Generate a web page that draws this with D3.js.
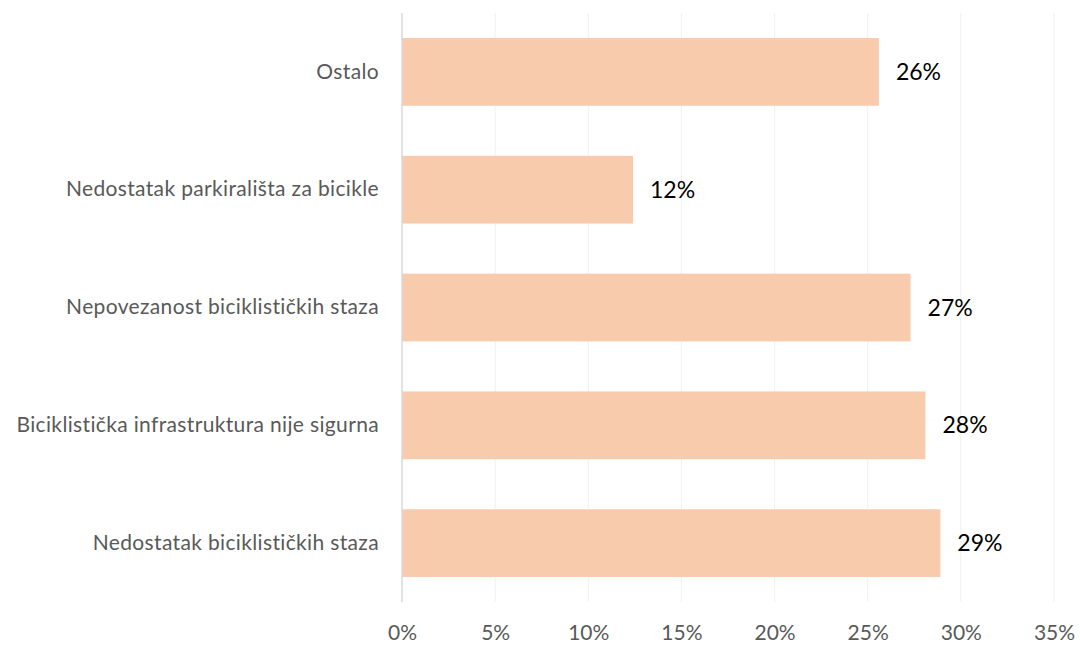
<!DOCTYPE html>
<html><head><meta charset="utf-8">
<script src="https://cdn.jsdelivr.net/npm/d3@7"></script>
<style>body{margin:0;background:#fff}svg{display:block}</style>
</head><body>
<svg id="chart" width="1080" height="645"></svg>
<script>
const categories = ["Ostalo","Nedostatak parkirališta za bicikle","Nepovezanost biciklističkih staza","Biciklistička infrastruktura nije sigurna","Nedostatak biciklističkih staza"];
const values = [25.6, 12.4, 27.3, 28.1, 28.9];
const valueLabels = ["26%","12%","27%","28%","29%"];
const ticks = [0,5,10,15,20,25,30,35];

const svg = d3.select("#chart");
const margin = {left:402, right:26, top:13, bottom:43};
const W = 1080, H = 645;
const x = d3.scaleLinear().domain([0,35]).range([margin.left, W - margin.right]);
const y = d3.scaleBand().domain(categories).range([margin.top, H - margin.bottom]).paddingInner(0.425).paddingOuter(0.2125);
const font = "Lato, 'Open Sans', sans-serif";

// gridlines
svg.append("g").selectAll("line").data(ticks.slice(1)).join("line")
  .attr("x1", d=>x(d)).attr("x2", d=>x(d))
  .attr("y1", margin.top).attr("y2", H - margin.bottom)
  .attr("stroke", "#F0F0F0").attr("stroke-width", 1);

// bars
svg.append("g").selectAll("rect").data(categories).join("rect")
  .attr("x", x(0)).attr("y", d=>y(d))
  .attr("width", (d,i)=>x(values[i]) - x(0))
  .attr("height", y.bandwidth())
  .attr("fill", "#F8CBAD");

// axis line
svg.append("line").attr("x1", x(0)).attr("x2", x(0))
  .attr("y1", margin.top).attr("y2", H - margin.bottom)
  .attr("stroke", "#D9D9D9").attr("stroke-width", 1.5);

// x axis
const xAxis = d3.axisBottom(x).tickValues(ticks).tickFormat(d=>d+"%").tickSize(0).tickPadding(0);
const gx = svg.append("g").attr("transform", `translate(0,${H - margin.bottom})`).call(xAxis);
gx.select(".domain").remove();
gx.selectAll("text").attr("y", 38).attr("dy", null).attr("fill", "#595959")
  .style("font-family", font).style("font-size", "21px");

// y axis labels
const yAxis = d3.axisLeft(y).tickSize(0).tickPadding(23);
const gy = svg.append("g").attr("transform", `translate(${x(0)},0)`).call(yAxis);
gy.select(".domain").remove();
gy.selectAll("text").attr("fill", "#595959").style("font-family", font).style("font-size", "21px")
  .style("letter-spacing", "0.35px");

// value labels
svg.append("g").selectAll("text").data(categories).join("text")
  .attr("x", (d,i)=>x(values[i]) + 17)
  .attr("y", d=>y(d) + y.bandwidth()/2)
  .attr("dy", "0.35em")
  .attr("fill", "#000")
  .style("font-family", font).style("font-size", "23px")
  .text((d,i)=>valueLabels[i]);
</script>
</body></html>
